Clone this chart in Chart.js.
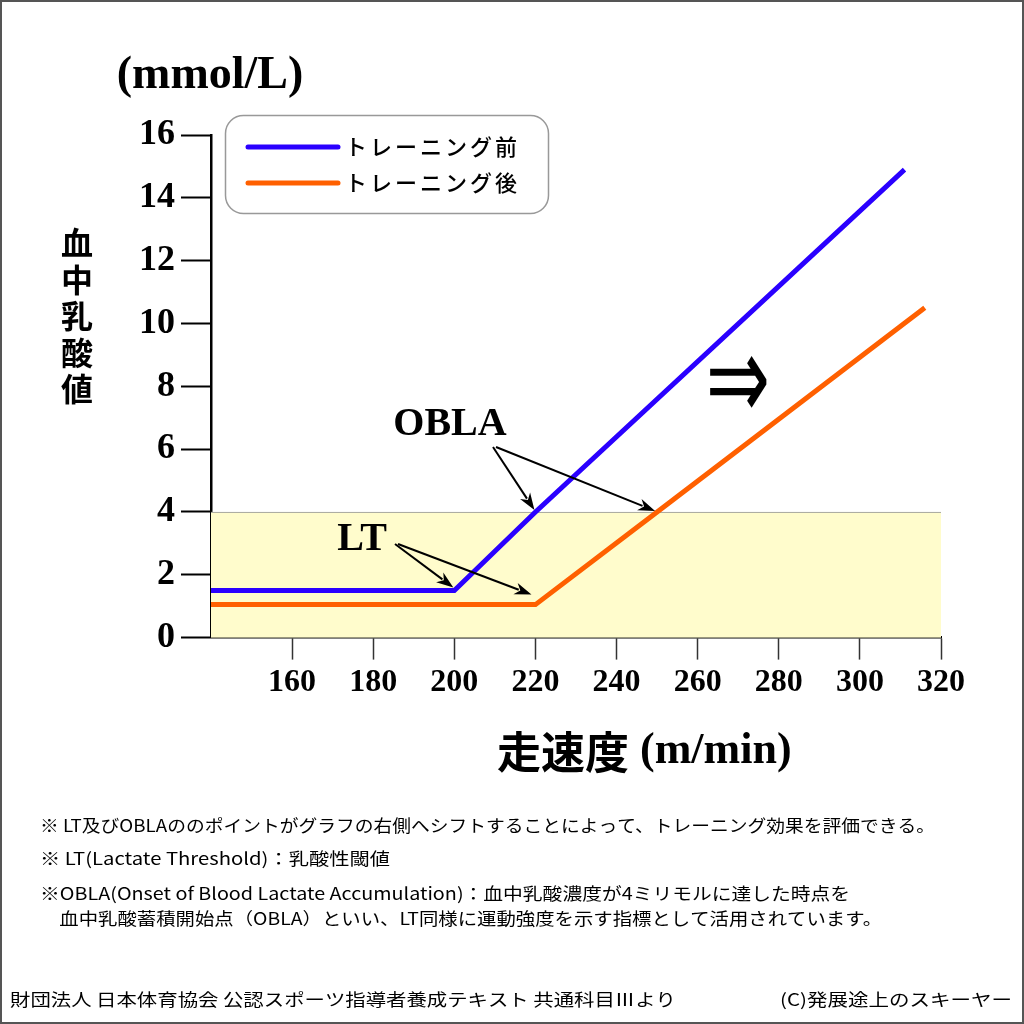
<!DOCTYPE html>
<html>
<head>
<meta charset="utf-8">
<script src="https://cdn.jsdelivr.net/npm/chart.js@4.4.1/dist/chart.umd.min.js"></script>
<style>
  body { margin: 0; background: #fff; }
  canvas { display: block; }
</style>
</head>
<body>
<canvas id="myChart" width="1024" height="1024"></canvas>
<script>
// datos
let velocidadAntes = [140, 200, 220, 311];
let lactatoAntes = [1.5, 1.5, 4, 14.9];
let velocidadDespues = [140, 220, 250, 316];
let lactatoDespues = [1.05, 1.05, 4, 10.5];
let ticksX = [160, 180, 200, 220, 240, 260, 280, 300, 320];
let ticksY = [0, 2, 4, 6, 8, 10, 12, 14, 16];
let nombresSeries = ["トレーニング前", "トレーニング後"];
let limiteOBLA = 4;

let notas = [
  "※ LT及びOBLAののポイントがグラフの右側へシフトすることによって、トレーニング効果を評価できる。",
  "※ LT(Lactate Threshold)：乳酸性閾値",
  "※OBLA(Onset of Blood Lactate Accumulation)：血中乳酸濃度が4ミリモルに達した時点を",
  "　血中乳酸蓄積開始点（OBLA）といい、LT同様に運動強度を示す指標として活用されています。"
];
let fuente = "財団法人 日本体育協会 公認スポーツ指導者養成テキスト 共通科目Ⅲより";
let autor = "(C)発展途上のスキーヤー";

let serif = '"Liberation Serif", "DejaVu Serif", serif';
let gothic = '"Noto Sans CJK JP", sans-serif';

function puntos(xs, ys) {
  return xs.map((x, i) => ({ x: x, y: ys[i] }));
}

// escribe un texto estirado al ancho pedido
function textoAncho(ctx, texto, x, y, ancho, alinear) {
  let w = ctx.measureText(texto).width;
  let k = ancho / w;
  ctx.save();
  ctx.textAlign = "left";
  ctx.translate(alinear === "right" ? x - ancho : x, y);
  ctx.scale(k, 1);
  ctx.fillText(texto, 0, 0);
  ctx.restore();
}

function flecha(ctx, x1, y1, x2, y2) {
  let ang = Math.atan2(y2 - y1, x2 - x1);
  let largo = 17;
  let ancho = 6;
  ctx.beginPath();
  ctx.moveTo(x1, y1);
  ctx.lineTo(x2 - Math.cos(ang) * largo * 0.8, y2 - Math.sin(ang) * largo * 0.8);
  ctx.stroke();
  ctx.beginPath();
  ctx.moveTo(x2, y2);
  ctx.lineTo(x2 - Math.cos(ang) * largo - Math.sin(ang) * ancho, y2 - Math.sin(ang) * largo + Math.cos(ang) * ancho);
  ctx.lineTo(x2 - Math.cos(ang) * largo * 0.7, y2 - Math.sin(ang) * largo * 0.7);
  ctx.lineTo(x2 - Math.cos(ang) * largo + Math.sin(ang) * ancho, y2 - Math.sin(ang) * largo - Math.cos(ang) * ancho);
  ctx.closePath();
  ctx.fill();
}

// zona amarilla bajo 4 mmol/L
let zonaPlugin = {
  id: "zona",
  beforeDraw(chart) {
    let ctx = chart.ctx;
    ctx.save();
    ctx.fillStyle = "#fff";
    ctx.fillRect(0, 0, chart.width, chart.height);
    ctx.restore();
  },
  beforeDatasetsDraw(chart) {
    let ctx = chart.ctx;
    let area = chart.chartArea;
    let y = chart.scales.y;
    let top = y.getPixelForValue(limiteOBLA);
    let bottom = y.getPixelForValue(0);
    ctx.save();
    ctx.fillStyle = "#fffccc";
    ctx.fillRect(area.left, top, area.right - area.left, bottom - top);
    ctx.strokeStyle = "#a8a8a0";
    ctx.lineWidth = 1;
    ctx.beginPath();
    ctx.moveTo(area.left, top + 0.5);
    ctx.lineTo(area.right, top + 0.5);
    ctx.stroke();
    ctx.restore();
  }
};

// textos, flechas y leyenda
let textosPlugin = {
  id: "textos",
  afterDraw(chart) {
    let ctx = chart.ctx;
    let sx = chart.scales.x;
    let sy = chart.scales.y;
    ctx.save();

    // titulo eje y
    ctx.fillStyle = "#000";
    ctx.textAlign = "center";
    ctx.textBaseline = "middle";
    ctx.font = "bold 46px " + serif;
    ctx.fillText("(mmol/L)", 210, 76);

    ctx.font = "bold 32px " + gothic;
    let vertical = "血中乳酸値";
    for (let i = 0; i < vertical.length; i++) {
      ctx.fillText(vertical[i], 77, 243 + i * 36.5);
    }

    // titulo eje x
    ctx.textAlign = "left";
    ctx.font = "bold 44px " + gothic;
    ctx.fillText("走速度", 497, 752);
    ctx.font = "bold 44px " + serif;
    ctx.fillText("(m/min)", 640, 752);

    // OBLA y LT
    ctx.textAlign = "center";
    ctx.font = "bold 40px " + serif;
    ctx.fillText("OBLA", 450, 425);
    ctx.fillText("LT", 362, 540);

    ctx.strokeStyle = "#000";
    ctx.fillStyle = "#000";
    ctx.lineWidth = 2;
    flecha(ctx, 493, 447, sx.getPixelForValue(velocidadAntes[2]) - 1, sy.getPixelForValue(lactatoAntes[2]) - 2);
    flecha(ctx, 496, 447, sx.getPixelForValue(velocidadDespues[2]) - 2, sy.getPixelForValue(lactatoDespues[2]) - 1);
    flecha(ctx, 395, 544, sx.getPixelForValue(velocidadAntes[1]) - 1, sy.getPixelForValue(lactatoAntes[1]) - 3);
    flecha(ctx, 398, 544, sx.getPixelForValue(velocidadDespues[1]) - 4, sy.getPixelForValue(lactatoDespues[1]) - 10);

    // flecha doble
    ctx.save();
    ctx.font = "64px \"DejaVu Sans\"";
    ctx.translate(738, 388);
    ctx.scale(1.2, 1.9);
    ctx.fillText("⇒", 0, 0);
    ctx.restore();

    // leyenda
    ctx.strokeStyle = "#999";
    ctx.lineWidth = 1.5;
    ctx.beginPath();
    ctx.roundRect(225.5, 115.5, 323, 98, 18);
    ctx.stroke();
    chart.data.datasets.forEach((ds, i) => {
      let yy = 147 + i * 36;
      ctx.strokeStyle = ds.borderColor;
      ctx.lineWidth = 5;
      ctx.lineCap = "round";
      ctx.beginPath();
      ctx.moveTo(248, yy);
      ctx.lineTo(338, yy);
      ctx.stroke();
      ctx.fillStyle = "#000";
      ctx.textAlign = "left";
      ctx.font = "500 22px " + gothic;
      ctx.letterSpacing = "3px";
      ctx.fillText(ds.label, 345, yy);
      ctx.letterSpacing = "0px";
    });

    // notas
    ctx.fillStyle = "#000";
    ctx.font = "17px " + gothic;
    textoAncho(ctx, notas[0], 40, 826, 895);
    textoAncho(ctx, notas[1], 40, 859, 350);
    textoAncho(ctx, notas[2], 40, 894, 810);
    textoAncho(ctx, notas[3], 40, 919, 842);
    textoAncho(ctx, fuente, 10, 1000, 666);
    textoAncho(ctx, autor, 1012, 1000, 232, "right");

    // marco
    ctx.strokeStyle = "#555";
    ctx.lineWidth = 2;
    ctx.strokeRect(1, 1, chart.width - 2, chart.height - 2);
    ctx.restore();
  }
};

let conf = {
  type: "line",
  data: {
    datasets: [
      {
        label: nombresSeries[0],
        data: puntos(velocidadAntes, lactatoAntes),
        borderColor: "#2a00ff",
        borderWidth: 5,
        pointRadius: 0,
        tension: 0
      },
      {
        label: nombresSeries[1],
        data: puntos(velocidadDespues, lactatoDespues),
        borderColor: "#ff6000",
        borderWidth: 5,
        pointRadius: 0,
        tension: 0
      }
    ]
  },
  options: {
    responsive: false,
    animation: false,
    devicePixelRatio: 1,
    layout: { padding: { left: 133, top: 135, right: 83, bottom: 318 } },
    plugins: {
      legend: { display: false },
      tooltip: { enabled: false }
    },
    scales: {
      x: {
        type: "linear",
        min: 140,
        max: 320,
        afterBuildTicks: (scale) => {
          scale.ticks = ticksX.map((v) => ({ value: v }));
        },
        grid: { drawOnChartArea: false, drawTicks: true, tickLength: 22, tickColor: "#333", tickWidth: 1.5 },
        border: { display: true, color: "#000", width: 2.5 },
        ticks: { color: "#000", padding: 4, maxRotation: 0, font: { family: serif, size: 32, weight: "bold" } }
      },
      y: {
        min: 0,
        max: 16,
        afterBuildTicks: (scale) => {
          scale.ticks = ticksY.map((v) => ({ value: v }));
        },
        grid: { drawOnChartArea: false, drawTicks: true, tickLength: 30, tickColor: "#000", tickWidth: 2 },
        border: { display: true, color: "#000", width: 2.5 },
        ticks: { color: "#000", padding: 6, font: { family: serif, size: 36, weight: "bold" } }
      }
    }
  },
  plugins: [zonaPlugin, textosPlugin]
};

let grafico = new Chart(document.querySelector("#myChart"), conf);
</script>
</body>
</html>
